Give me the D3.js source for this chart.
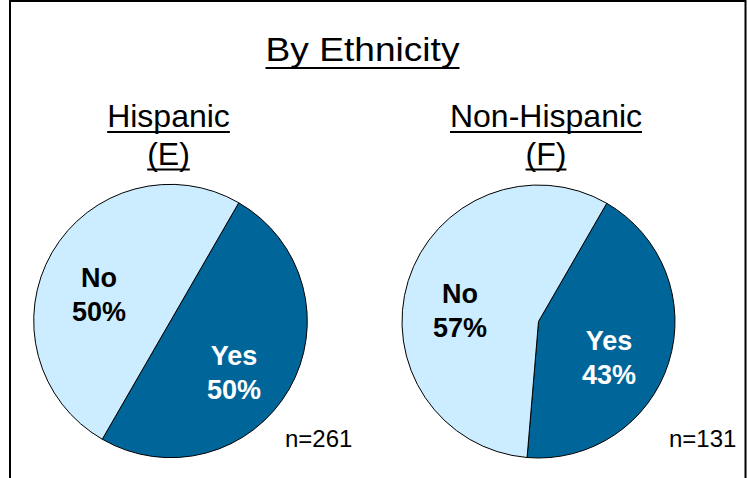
<!DOCTYPE html>
<html>
<head>
<meta charset="utf-8">
<script src="https://cdn.jsdelivr.net/npm/d3@7"></script>
<style>
  html, body { margin: 0; padding: 0; background: #fff; }
  svg { display: block; }
  text { font-family: "Liberation Sans", Arial, sans-serif; }
</style>
</head>
<body>
<svg id="chart" width="748" height="478"></svg>
<script>
// ---- data ----
const title = "By Ethnicity";
const groups = ["Hispanic", "Non-Hispanic"];
const groupCodes = ["(E)", "(F)"];
const categories = ["Yes", "No"];
const yesValues = [50, 43];
const noValues = [50, 57];
const sampleSizes = [261, 131];

// ---- layout ----
const W = 748, H = 478;
const svg = d3.select("#chart");
const colors = d3.scaleOrdinal().domain(categories).range(["#006699", "#CCECFF"]);
const labelColors = d3.scaleOrdinal().domain(categories).range(["#ffffff", "#000000"]);
const centers = [{x: 170.5, y: 321}, {x: 538.5, y: 321.5}];
const headX = [168.5, 546];
const nLabelX = [285, 669];
const R = 136.5;

// frame
svg.append("rect").attr("x", 10).attr("y", 1).attr("width", 735.5).attr("height", 500)
  .attr("fill", "#fff").attr("stroke", "#000").attr("stroke-width", 2);

function underlinedText(x, y, str, size, targetLen, ulOffset) {
  const t = svg.append("text").attr("x", x).attr("y", y)
    .attr("text-anchor", "middle").attr("font-size", size).attr("fill", "#000").text(str);
  if (targetLen) t.attr("textLength", targetLen).attr("lengthAdjust", "spacingAndGlyphs");
  const w = targetLen || t.node().getComputedTextLength();
  svg.append("rect").attr("x", x - w / 2).attr("y", y + ulOffset).attr("width", w).attr("height", 2).attr("fill", "#000");
}

underlinedText(362.5, 60.5, title, 33, 194, 6.5);

const pie = d3.pie().sort(null).value(d => d.value)
  .startAngle(Math.PI / 6).endAngle(Math.PI / 6 + 2 * Math.PI);
const arc = d3.arc().innerRadius(0).outerRadius(R);
const labelR = 78;
const labelArc = d3.arc().innerRadius(labelR).outerRadius(labelR);

groups.forEach((g, i) => {
  const c = centers[i];
  underlinedText(headX[i], 127, g, 32, null, 4);
  underlinedText(headX[i], 164.5, groupCodes[i], 32, null, 4);

  const data = [
    {cat: "Yes", value: yesValues[i]},
    {cat: "No", value: noValues[i]}
  ];
  const gp = svg.append("g").attr("transform", `translate(${c.x},${c.y})`);
  const arcs = pie(data);
  gp.selectAll("path").data(arcs).join("path")
    .attr("d", arc)
    .attr("fill", d => colors(d.data.cat))
    .attr("stroke", "#000").attr("stroke-width", 1).attr("stroke-linejoin", "round");

  arcs.forEach(a => {
    const [lx, ly] = labelArc.centroid(a);
    const t = gp.append("text").attr("text-anchor", "middle")
      .attr("font-size", 27).attr("font-weight", "bold")
      .attr("fill", labelColors(a.data.cat));
    t.append("tspan").attr("x", lx - 4).attr("y", ly + 5).text(a.data.cat);
    t.append("tspan").attr("x", lx - 4).attr("y", ly + 39).text(a.data.value + "%");
  });

  svg.append("text").attr("x", nLabelX[i]).attr("y", 447)
    .attr("font-size", 24).attr("fill", "#000").text("n=" + sampleSizes[i]);
});
</script>
</body>
</html>
